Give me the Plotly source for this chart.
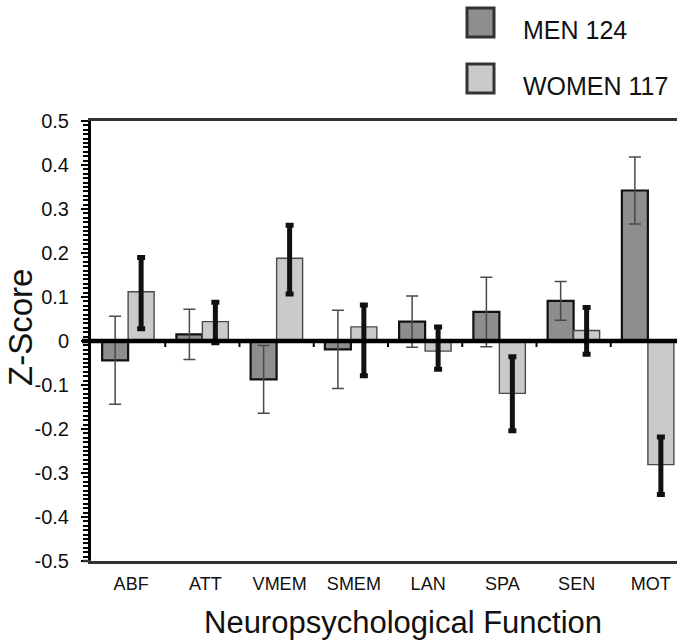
import plotly.graph_objects as go

# Neuropsychological domain z-scores by sex (mean and error bar extents)
categories = ["ABF", "ATT", "VMEM", "SMEM", "LAN", "SPA", "SEN", "MOT"]
men_scores = [-0.044, 0.015, -0.087, -0.019, 0.044, 0.066, 0.091, 0.342]
men_err = [0.100, 0.057, 0.077, 0.089, 0.058, 0.079, 0.044, 0.076]
women_scores = [0.112, 0.044, 0.188, 0.032, -0.023, -0.119, 0.024, -0.281]
women_err_up = [0.078, 0.044, 0.075, 0.050, 0.055, 0.083, 0.052, 0.063]
women_err_down = [0.084, 0.048, 0.081, 0.111, 0.041, 0.085, 0.054, 0.068]
y_tick_text = {"−0.1": "-0.1", "−0.2": "-0.2", "−0.3": "-0.3", "−0.4": "-0.4", "−0.5": "-0.5"}
legend_labels = ["MEN 124", "WOMEN 117"]

W, H = 677, 641
ML, MR, MT, MB = 91, 0, 121, 80
PW, PH = W - ML - MR, H - MT - MB
FONT = "Liberation Sans, Arial, Helvetica, sans-serif"
MEN_FILL, WOMEN_FILL = "#8e8e8e", "#cacaca"


def px_x(px):
    return (px - ML) / PW


def px_y(py):
    return (H - MB - py) / PH


fig = go.Figure()
fig.add_trace(go.Bar(
    x=categories, y=men_scores, name=legend_labels[0],
    marker=dict(color=MEN_FILL, line=dict(color="#111111", width=2.2)),
    error_y=dict(type="data", array=men_err, color="#4a4a4a", thickness=1.5, width=6),
))
fig.add_trace(go.Bar(
    x=categories, y=women_scores, name=legend_labels[1],
    marker=dict(color=WOMEN_FILL, line=dict(color="#4a4a4a", width=1.4)),
    error_y=dict(type="data", symmetric=False, array=women_err_up,
                 arrayminus=women_err_down, color="#111111", thickness=5, width=4),
))

x_end = len(categories) - 0.5 - 8 / 74.3

fig.update_layout(
    width=W, height=H,
    margin=dict(l=ML, r=MR, t=MT, b=MB, pad=0),
    paper_bgcolor="white", plot_bgcolor="white",
    barmode="group", bargap=0.3, bargroupgap=0.0,
    showlegend=False,
    font=dict(family=FONT, color="#111111"),
    xaxis=dict(
        range=[-0.5, x_end], showgrid=False, zeroline=False,
        showline=True, mirror=True, linecolor="#333333", linewidth=2.5,
        ticks="", tickfont=dict(size=18, family=FONT), ticklabelstandoff=5,
        ticklabelshift=3,
    ),
    yaxis=dict(
        range=[-0.5, 0.5], showgrid=False, zeroline=False,
        showline=True, linecolor="#000000", linewidth=3,
        tickmode="linear", tick0=0, dtick=0.1, labelalias=y_tick_text,
        ticks="outside", ticklen=7, tickwidth=2, tickcolor="#000000",
        tickfont=dict(size=20, family=FONT), ticklabelstandoff=8,
        minor=dict(tickmode="linear", tick0=0, dtick=0.01, ticks="outside",
                   ticklen=5, tickwidth=1.8, tickcolor="#000000"),
    ),
)

# Zero reference line drawn over the bars, with ticks at category boundaries
fig.add_shape(type="line", xref="paper", yref="y", x0=px_x(82), x1=1, y0=0, y1=0,
              line=dict(color="#000000", width=4.5), layer="above")
for i in range(len(categories) - 1):
    fig.add_shape(type="line", xref="x", yref="paper", x0=i + 0.5, x1=i + 0.5,
                  y0=px_y(342), y1=px_y(347), line=dict(color="#000000", width=2),
                  layer="above")

# Short extension of the bottom frame line past the value axis
fig.add_shape(type="line", xref="paper", yref="paper", x0=px_x(83), x1=0, y0=0, y1=0,
              line=dict(color="#333333", width=2.5), layer="above")

# Axis titles
fig.add_annotation(
    text="Z-Score", xref="paper", yref="paper", textangle=-90,
    x=px_x(20), y=px_y(328), xanchor="center", yanchor="middle",
    showarrow=False, font=dict(size=33, family=FONT, color="#111111"),
)
fig.add_annotation(
    text="Neuropsychological Function", xref="paper", yref="paper",
    x=px_x(403), y=px_y(622), xanchor="center", yanchor="middle",
    showarrow=False, font=dict(size=31, family=FONT, color="#111111"),
)

# Legend drawn as large outlined swatches with labels
for label, fill, top in zip(legend_labels, [MEN_FILL, WOMEN_FILL], [8, 64]):
    fig.add_shape(
        type="rect", xref="paper", yref="paper",
        x0=px_x(467), x1=px_x(494), y0=px_y(top + 29), y1=px_y(top),
        fillcolor=fill, line=dict(color="#333333", width=3),
    )
    fig.add_annotation(
        text=label, xref="paper", yref="paper",
        x=px_x(521), y=px_y(top + 22), xanchor="left", yanchor="middle",
        showarrow=False, font=dict(size=25, family=FONT, color="#111111"),
    )

fig.write_html("out.html")
